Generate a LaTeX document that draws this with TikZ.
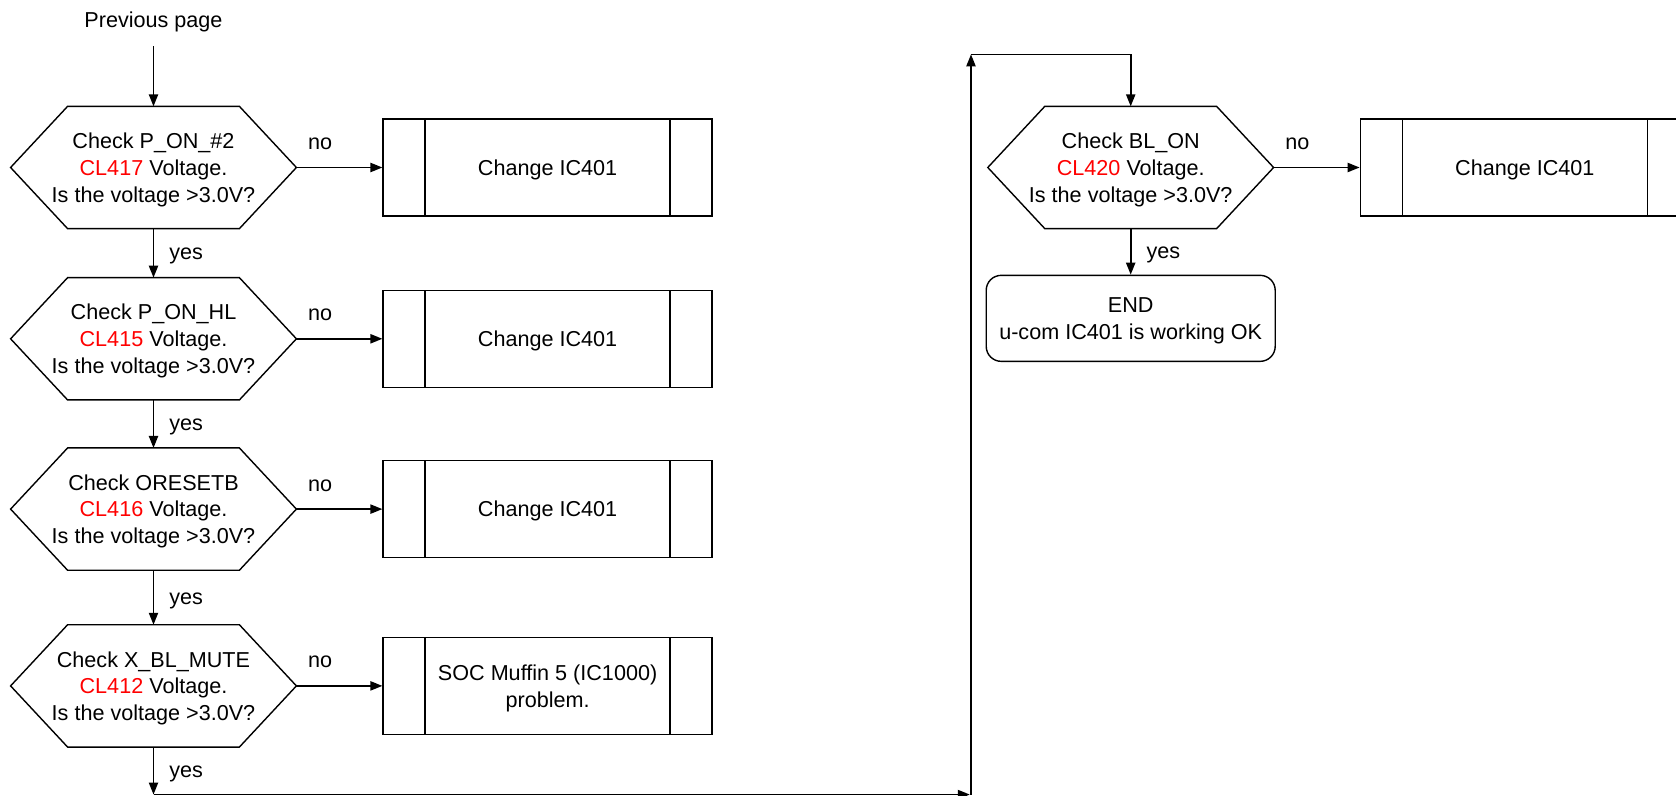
\documentclass[tikz,border=0pt]{standalone}
\usepackage{fontspec}
\setmainfont{Liberation Sans}
\usepackage{tikz}
\usetikzlibrary{arrows.meta,positioning,calc}
\definecolor{clred}{HTML}{FF0000}
\tikzset{
  decision/.style   = {minimum width=142.5pt, minimum height=60.75pt, inner sep=0pt, align=center,
                       text depth=-1.3pt},
  proc/.style       = {draw, line width=0.7pt, minimum width=164.5pt, minimum height=48.5pt,
                       inner sep=2pt, align=center, text depth=-1.3pt,
                       path picture={\draw[line width=0.7pt]
                         ([xshift=21pt]path picture bounding box.north west) -- ([xshift=21pt]path picture bounding box.south west)
                         ([xshift=-21pt]path picture bounding box.north east) -- ([xshift=-21pt]path picture bounding box.south east);}},
  term/.style       = {draw, line width=0.7pt, rounded corners=7.5pt, minimum width=144.5pt,
                       minimum height=43pt, inner sep=0pt, align=center, text depth=-1.3pt},
  sig/.style        = {-{Triangle[length=6pt, width=4.6pt]}, line width=0.8pt},
  outline/.style    = {line width=0.7pt},
  lbl/.style        = {inner sep=0pt},
  yeslbl/.style     = {lbl, right=7.5pt, yshift=-1.5pt},
  every node/.style = {font=\fontsize{10.8pt}{13.35pt}\selectfont},
}
\begin{document}
\begin{tikzpicture}
  \useasboundingbox (0,0) rectangle (838pt,-398pt);
  % checks, left column
  \node[decision] (q1) at (76.75pt,-83.75pt) {Check P\_ON\_\#2\\{\color{clred}CL417} Voltage.\\Is the voltage >3.0V?};
  \node[decision, below=24.5pt of q1] (q2) {Check P\_ON\_HL\\{\color{clred}CL415} Voltage.\\Is the voltage >3.0V?};
  \node[decision, below=24pt of q2] (q3) {Check ORESETB\\{\color{clred}CL416} Voltage.\\Is the voltage >3.0V?};
  \node[decision, below=27.25pt of q3] (q4) {Check X\_BL\_MUTE\\{\color{clred}CL412} Voltage.\\Is the voltage >3.0V?};
  \node[lbl, inner sep=7pt, above=30pt of q1] (prev) {Previous page};
  % repair actions
  \node[proc, right=43pt of q1] (b1) {Change IC401};
  \node[proc, right=43pt of q2] (b2) {Change IC401};
  \node[proc, right=43pt of q3] (b3) {Change IC401};
  \node[proc, right=43pt of q4] (b4) {SOC Muffin 5 (IC1000)\\problem.};
  % right column
  \node[decision, right=137.5pt of b1] (q5) {Check BL\_ON\\{\color{clred}CL420} Voltage.\\Is the voltage >3.0V?};
  \node[proc, right=43pt of q5] (b5) {Change IC401};
  \node[term, below=23pt of q5] (done) {END\\u-com IC401 is working OK};
  % hexagon outlines
  \foreach \q in {q1,q2,q3,q4,q5}
    \draw[outline] (\q.west) -- ([xshift=28.5pt]\q.north west) -- ([xshift=-28.5pt]\q.north east)
      -- (\q.east) -- ([xshift=-28.5pt]\q.south east) -- ([xshift=28.5pt]\q.south west) -- cycle;
  % connectors
  \draw[sig] (prev) -- (q1);
  \draw[sig] (q1) -- (q2) node[midway, yeslbl] {yes};
  \draw[sig] (q2) -- (q3) node[midway, yeslbl] {yes};
  \draw[sig] (q3) -- (q4) node[midway, yeslbl] {yes};
  \foreach \i in {1,...,5}
    \draw[sig] (q\i) -- (b\i) node[pos=0, above right=8.5pt and 5.5pt, lbl] {no};
  \coordinate[below=23.75pt of q4] (c1);
  \coordinate[right=408.75pt of c1] (c2);
  \coordinate (c3) at ($(c2 |- q5.north)+(0,26pt)$);
  \draw[sig] (q4) -- (c1) node[midway, yeslbl] {yes};
  \draw[sig, shorten >=0.6pt] (c1) -- (c2);
  \draw[sig] (c2) -- (c3);
  \draw[sig] (c3) -| (q5);
  \draw[sig] (q5) -- (done) node[midway, yeslbl] {yes};
\end{tikzpicture}
\end{document}
